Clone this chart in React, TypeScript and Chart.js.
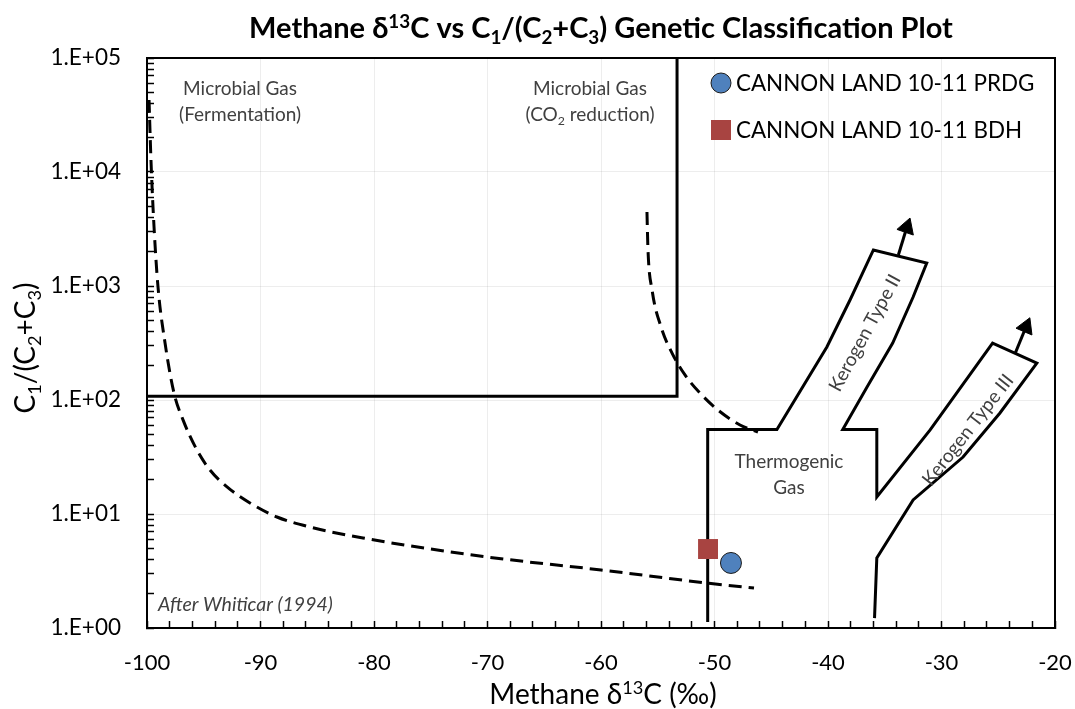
import React, { useEffect, useRef } from 'react';
import { Chart, registerables } from 'chart.js';
Chart.register(...registerables);

// ---------- axis definitions ----------
const xMajorTicks = [-100, -90, -80, -70, -60, -50, -40, -30, -20];
const xTickLabels = ['-100', '-90', '-80', '-70', '-60', '-50', '-40', '-30', '-20'];
const yDecades = [1, 10, 100, 1000, 10000, 100000];
const yTickLabels = ['1.E+00', '1.E+01', '1.E+02', '1.E+03', '1.E+04', '1.E+05'];

// ---------- samples ----------
const prdgX = [-48.55];
const prdgY = [3.72];
const bdhX = [-50.57];
const bdhY = [4.93];

// ---------- classification fields ----------
const microbialBoxX = [-100, -53.3, -53.3];
const microbialBoxY = [108, 108, 100000];

const thermoX = [-50.6, -50.6, -44.5, -40.1, -38.06, -36.0, -31.3, -32.5, -34.3, -36.56, -38.7, -35.7, -35.7, -31.0, -25.5, -21.6, -24.85, -28.1, -32.5, -35.7, -35.9];
const thermoY = [1.13, 55, 55, 292, 754, 2070, 1592, 801, 316, 130, 55, 55, 14.1, 54.6, 316, 211, 76.9, 31.6, 13.3, 4.11, 1.22];

const arrowIIX = [-33.8, -33.06];
const arrowIIY = [1871, 3260];
const arrowIIIX = [-23.5, -22.56];
const arrowIIIY = [258, 437];

const fermentX = [-99.82, -99.65, -99.38, -99.03, -98.41, -97.62, -96.8, -95.6, -94.45, -92.95, -90.93, -88.55, -85.64, -80.97, -70.04, -60.0, -50.66, -46.52];
const fermentY = [42800, 12700, 3290, 980, 316, 115, 66, 36.4, 24.3, 17.3, 12.5, 9.41, 7.69, 6.16, 4.2, 3.23, 2.48, 2.24];

const co2X = [-55.95, -55.86, -55.5, -54.71, -53.74, -52.6, -51.28, -49.7, -47.75, -46.17];
const co2Y = [4460, 2070, 922, 437, 258, 166, 115, 81.7, 60.4, 52.4];

// ---------- annotation anchors (data space) ----------
const notes = [
  { x: -91.8, y: 54600, text: [['Microbial Gas', 0]] },
  { x: -91.8, y: 32300, text: [['(Fermentation)', 0]] },
  { x: -60.97, y: 54600, text: [['Microbial Gas', 0]] },
  { x: -60.97, y: 32300, text: [['(CO', 0], ['2', 2], [' reduction)', 0]] },
  { x: -43.44, y: 29.2, text: [['Thermogenic', 0]] },
  { x: -43.44, y: 17.3, text: [['Gas', 0]] },
];
const kerogenNotes = [
  { x: -36.74, y: 387, angle: -61.5, text: 'Kerogen Type II' },
  { x: -27.67, y: 54.6, angle: -52, text: 'Kerogen Type III' },
];
const creditNote = { x: -99.03, y: 1.59, text: 'After Whiticar (1994)' };

const FONT = 'Lato, "Open Sans", "DejaVu Sans", sans-serif';
const GRID = 'rgba(0,0,0,0.07)';

type Seg = [string, number];
const TITLE: Seg[] = [['Methane \u03B4', 0], ['13', 1], ['C vs C', 0], ['1', 2], ['/(C', 0], ['2', 2], ['+C', 0], ['3', 2], [') Genetic Classification Plot', 0]];
const XTITLE: Seg[] = [['Methane \u03B4', 0], ['13', 1], ['C (\u2030)', 0]];
const YTITLE: Seg[] = [['C', 0], ['1', 2], ['/(C', 0], ['2', 2], ['+C', 0], ['3', 2], [')', 0]];

function zip(xs: number[], ys: number[]) {
  return xs.map((x, i) => ({ x, y: ys[i] }));
}

function drawRich(ctx: CanvasRenderingContext2D, segs: Seg[], x: number, baseY: number, size: number, weight: string, color: string, align: 'center' | 'left' = 'center') {
  const fontFor = (k: number) => `${weight} ${k ? size * 0.65 : size}px ${FONT}`;
  let total = 0;
  for (const [t, k] of segs) {
    ctx.font = fontFor(k);
    total += ctx.measureText(t).width;
  }
  let cx = align === 'center' ? x - total / 2 : x;
  ctx.fillStyle = color;
  ctx.textAlign = 'left';
  ctx.textBaseline = 'alphabetic';
  for (const [t, k] of segs) {
    ctx.font = fontFor(k);
    const dy = k === 1 ? -size * 0.36 : k === 2 ? size * 0.22 : 0;
    ctx.fillText(t, cx, baseY + dy);
    cx += ctx.measureText(t).width;
  }
}

const overlay = {
  id: 'overlay',
  afterDraw(chart: any) {
    const { ctx, chartArea: a, scales } = chart;
    const xs = scales.x;
    const ys = scales.y;
    ctx.save();
    // frame
    ctx.strokeStyle = '#000';
    ctx.lineWidth = 2;
    ctx.strokeRect(a.left, a.top, a.right - a.left, a.bottom - a.top);
    const cxPlot = (a.left + a.right) / 2;
    // title
    drawRich(ctx, TITLE, cxPlot, 38, 29, 'bold', '#000');
    // x title
    drawRich(ctx, XTITLE, cxPlot + 2, 704, 28, 'normal', '#000');
    // y title
    ctx.save();
    ctx.translate(35, (a.top + a.bottom) / 2 + 5);
    ctx.rotate(-Math.PI / 2);
    drawRich(ctx, YTITLE, 0, 0, 28, 'normal', '#000');
    ctx.restore();
    // annotations
    for (const n of notes) {
      drawRich(ctx, n.text as Seg[], xs.getPixelForValue(n.x), ys.getPixelForValue(n.y) + 7, 19, 'normal', '#404040');
    }
    for (const k of kerogenNotes) {
      ctx.save();
      ctx.translate(xs.getPixelForValue(k.x), ys.getPixelForValue(k.y));
      ctx.rotate((k.angle * Math.PI) / 180);
      ctx.font = `19px ${FONT}`;
      ctx.fillStyle = '#404040';
      ctx.textAlign = 'center';
      ctx.textBaseline = 'middle';
      ctx.fillText(k.text, 0, 0);
      ctx.restore();
    }
    ctx.font = `italic 19.5px ${FONT}`;
    ctx.fillStyle = '#404040';
    ctx.textAlign = 'left';
    ctx.textBaseline = 'middle';
    ctx.fillText(creditNote.text, xs.getPixelForValue(creditNote.x), ys.getPixelForValue(creditNote.y));
    // legend
    const d0 = chart.data.datasets[0];
    const d1 = chart.data.datasets[1];
    const lx = a.right - 334;
    const ly1 = a.top + 25;
    const ly2 = a.top + 72;
    ctx.beginPath();
    ctx.arc(lx, ly1, 10, 0, Math.PI * 2);
    ctx.fillStyle = d0.pointBackgroundColor;
    ctx.fill();
    ctx.lineWidth = 1;
    ctx.strokeStyle = d0.pointBorderColor;
    ctx.stroke();
    ctx.fillStyle = d1.pointBackgroundColor;
    ctx.fillRect(lx - 10, ly2 - 10, 20, 20);
    ctx.font = `22.4px ${FONT}`;
    ctx.fillStyle = '#000';
    ctx.textBaseline = 'middle';
    ctx.textAlign = 'left';
    ctx.fillText(d0.label, lx + 15, ly1 + 1);
    ctx.fillText(d1.label, lx + 15, ly2 + 1);
    ctx.restore();
  },
};

const xTicksAll: number[] = [];
for (let v = -100; v <= -20; v += 2) xTicksAll.push(v);
const yTicksAll: number[] = [];
for (let e = 0; e < 5; e++) for (let m = 1; m <= 9; m++) yTicksAll.push(Number((m * Math.pow(10, e)).toPrecision(6)));
yTicksAll.push(100000);

const lineStyle = { showLine: true, borderColor: '#000', borderWidth: 3, pointRadius: 0, fill: false, tension: 0 };

export default function App() {
  const ref = useRef<HTMLCanvasElement>(null);
  useEffect(() => {
    if (!ref.current) return;
    const chart = new Chart(ref.current, {
      type: 'scatter',
      data: {
        datasets: [
          { label: 'CANNON LAND 10-11 PRDG', data: zip(prdgX, prdgY), pointStyle: 'circle', pointRadius: 10.5, pointBackgroundColor: '#4F81BD', pointBorderColor: '#1b1b1b', pointBorderWidth: 1, showLine: false } as any,
          { label: 'CANNON LAND 10-11 BDH', data: zip(bdhX, bdhY), pointStyle: 'rect', pointRadius: 14.1, pointBackgroundColor: '#A84441', pointBorderColor: '#A84441', pointBorderWidth: 0, showLine: false } as any,
          { label: 'arrowII head', data: zip(arrowIIX, arrowIIY).slice(-1), pointStyle: 'triangle', pointRadius: 10, pointRotation: 19, pointBackgroundColor: '#000', pointBorderColor: '#000', showLine: false } as any,
          { label: 'arrowIII head', data: zip(arrowIIIX, arrowIIIY).slice(-1), pointStyle: 'triangle', pointRadius: 10, pointRotation: 23, pointBackgroundColor: '#000', pointBorderColor: '#000', showLine: false } as any,
          { label: 'arrowII', data: zip(arrowIIX, arrowIIY), ...lineStyle } as any,
          { label: 'arrowIII', data: zip(arrowIIIX, arrowIIIY), ...lineStyle } as any,
          { label: 'microbial', data: zip(microbialBoxX, microbialBoxY), ...lineStyle } as any,
          { label: 'thermogenic', data: zip(thermoX, thermoY), ...lineStyle } as any,
          { label: 'fermentation', data: zip(fermentX, fermentY), ...lineStyle, borderDash: [13, 7], cubicInterpolationMode: 'monotone' } as any,
          { label: 'co2', data: zip(co2X, co2Y), ...lineStyle, borderDash: [13, 7], cubicInterpolationMode: 'monotone' } as any,
        ],
      },
      options: {
        responsive: false,
        animation: false,
        events: [],
        layout: { padding: { top: 58, right: 20, left: 0, bottom: 0 } },
        plugins: { legend: { display: false }, tooltip: { enabled: false }, title: { display: false } },
        scales: {
          x: {
            type: 'linear',
            position: 'bottom',
            min: -100,
            max: -20,
            afterBuildTicks: (s: any) => { s.ticks = xTicksAll.map((v) => ({ value: v })); },
            afterFit: (s: any) => { s.height = 81; s.paddingLeft = 0; s.paddingRight = 0; },
            ticks: {
              autoSkip: false, maxRotation: 0, minRotation: 0, padding: 29, color: '#000',
              font: { family: FONT, size: 22 },
              callback: (v: any) => { const i = xMajorTicks.indexOf(Number(v)); return i >= 0 ? xTickLabels[i] : ''; },
            },
            grid: {
              color: (c: any) => (c.tick && xMajorTicks.indexOf(c.tick.value) >= 0 ? GRID : 'rgba(0,0,0,0)'),
              tickColor: '#000', tickLength: -7, tickWidth: 1.5, lineWidth: 1,
            },
            border: { color: '#000', width: 2 },
          },
          y: {
            type: 'logarithmic',
            position: 'left',
            min: 1,
            max: 100000,
            afterBuildTicks: (s: any) => { s.ticks = yTicksAll.map((v) => ({ value: v, major: yDecades.indexOf(v) >= 0 })); },
            afterFit: (s: any) => { s.width = 147; s.paddingTop = 0; s.paddingBottom = 0; },
            ticks: {
              autoSkip: false, padding: 33, color: '#000',
              font: { family: FONT, size: 22.5 },
              callback: (v: any) => { const i = yDecades.indexOf(Number(v)); return i >= 0 ? yTickLabels[i] : ''; },
            },
            grid: {
              color: (c: any) => (c.tick && yDecades.indexOf(c.tick.value) >= 0 ? GRID : 'rgba(0,0,0,0)'),
              tickColor: '#000', tickLength: -7, tickWidth: 1.5, lineWidth: 1,
            },
            border: { color: '#000', width: 2 },
          },
        },
      } as any,
      plugins: [overlay],
    });
    return () => chart.destroy();
  }, []);
  return (
    <div style={{ position: 'absolute', left: 0, top: 0, width: 1075, height: 709, background: '#fff' }}>
      <canvas ref={ref} width={1075} height={709} style={{ display: 'block', width: 1075, height: 709 }} />
    </div>
  );
}
